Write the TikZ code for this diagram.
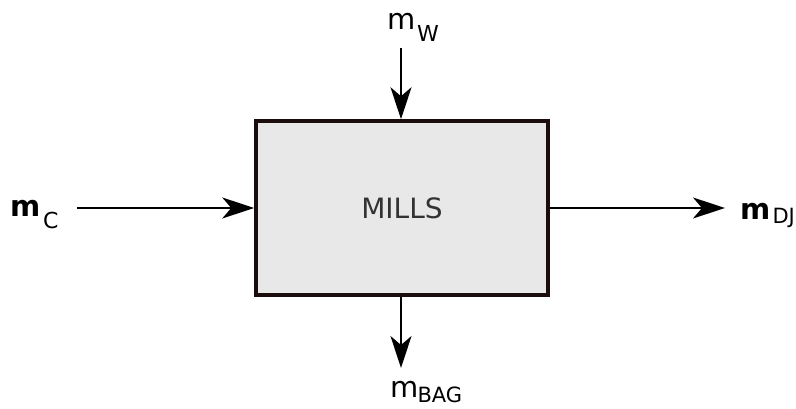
\documentclass[tikz,border=0pt]{standalone}
\usepackage{fontspec}
\setmainfont{DejaVu Sans}
\usetikzlibrary{arrows.meta}
\definecolor{boxedge}{RGB}{28,12,12}
\definecolor{boxfill}{RGB}{232,232,232}
\newcommand{\mlab}[5]{\makebox[0pt][l]{\fontsize{29}{29}\selectfont #1}\hspace{#3pt}\raisebox{#4pt}{\fontsize{#5}{#5}\selectfont #2}}
\tikzset{
  millbox/.style={draw=boxedge, line width=3.5pt, fill=boxfill, minimum width=292pt, minimum height=174pt, inner sep=0pt, font=\fontsize{28}{28}\selectfont, text=black!80},
  flow/.style={line width=1.8pt, -{Stealth[length=32pt, width=21pt, inset=9pt]}},
  lab/.style={anchor=base west, inner sep=0pt, outer sep=0pt}
}
\begin{document}
\begin{tikzpicture}[x=1pt,y=1pt]
\useasboundingbox (0,0) rectangle (796,409);
\node[millbox] (mill) at (402,201) {MILLS};
\coordinate (cin) at (77,201);
\coordinate (dout) at (725,201);
\coordinate (win) at (401,361);
\coordinate (bout) at (401,41);
\node[lab] (mc) at (10,192) {\mlab{\textbf{m}}{C}{33}{-12}{22}};
\node[lab] (mdj) at (740,189) {\mlab{\textbf{m}}{DJ}{32.5}{-3.5}{21}};
\node[lab] (mw) at (387,379) {\mlab{m}{W}{30}{-12}{22}};
\node[lab] (mbag) at (390,11) {\mlab{m}{BAG}{27.5}{-5}{21}};
\draw[flow] (cin) -- (mill.west);
\draw[flow] (mill.east) -- (dout);
\draw[flow] (win) -- (mill.north -| win);
\draw[flow] (mill.south -| bout) -- (bout);
\end{tikzpicture}
\end{document}
